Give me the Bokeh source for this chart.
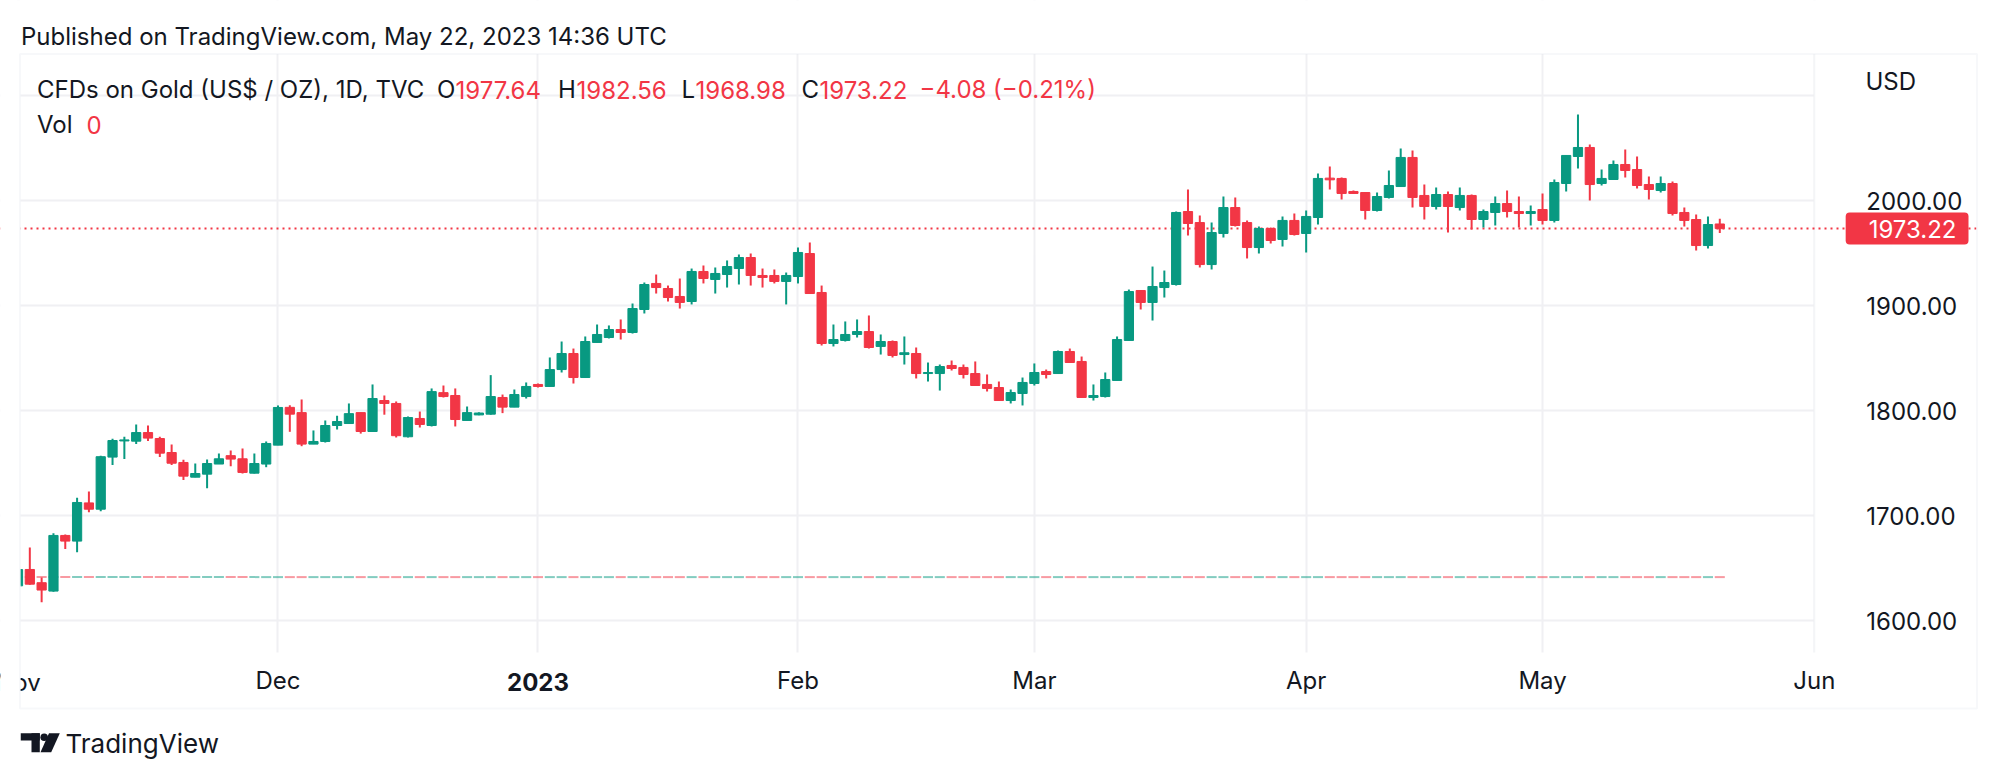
import pandas as pd
from bokeh.plotting import figure
from bokeh.models import (ColumnDataSource, FixedTicker, NumeralTickFormatter, Label,
                          Span, BoxAnnotation, Range1d)
from bokeh.core.properties import value
from bokeh.embed import file_html
from bokeh.resources import INLINE

# ---------------- data (daily candles, CFDs on Gold, TVC) ----------------
start_date = "2022-11-01"
axis_end_date = "2023-06-01"

opens = [1633.0, 1648.6, 1636.0, 1628.0, 1681.0, 1675.6, 1712.0, 1706.0, 1755.6, 1771.0,
         1770.8, 1779.0, 1773.3, 1760.0, 1750.5, 1736.5, 1739.4, 1749.0, 1757.0, 1754.0,
         1740.3, 1749.0, 1767.0, 1803.0, 1798.0, 1768.0, 1770.5, 1785.7, 1787.6, 1798.0,
         1780.0, 1809.5, 1806.7, 1775.0, 1792.4, 1785.7, 1817.0, 1814.3, 1790.5, 1795.8,
         1796.5, 1812.4, 1803.2, 1813.3, 1824.8, 1822.9, 1839.0, 1854.3, 1831.4, 1864.8,
         1869.5, 1877.1, 1874.3, 1896.2, 1921.0, 1916.2, 1908.6, 1903.8, 1932.4, 1924.8,
         1929.5, 1935.2, 1945.7, 1928.6, 1928.6, 1922.9, 1927.6, 1949.5, 1912.4, 1863.8,
         1866.7, 1872.4, 1875.2, 1861.0, 1865.7, 1853.3, 1854.3, 1835.2, 1835.2, 1842.9,
         1841.0, 1835.2, 1824.8, 1821.9, 1809.5, 1816.2, 1825.7, 1837.1, 1835.2, 1856.2,
         1846.7, 1812.4, 1813.3, 1828.6, 1866.7, 1914.3, 1902.9, 1917.1, 1920.0, 1989.5,
         1979.0, 1939.0, 1968.6, 1993.3, 1979.0, 1955.2, 1973.3, 1962.9, 1981.0, 1968.6,
         1983.8, 2021.3, 2021.0, 2008.6, 2007.6, 1990.5, 2002.9, 2013.3, 2041.0, 2004.8,
         1994.3, 2005.7, 1993.3, 2004.8, 1981.9, 1988.6, 1997.1, 1989.5, 1987.6, 1991.4,
         1981.0, 2016.2, 2041.9, 2050.5, 2016.2, 2020.0, 2034.3, 2029.5, 2015.2, 2009.5,
         2016.2, 1988.6, 1981.9, 1957.1, 1977.64]
highs = [1650.5, 1669.5, 1641.0, 1683.0, 1682.0, 1717.0, 1722.9, 1757.0, 1773.0, 1775.0,
         1786.7, 1785.7, 1775.0, 1767.6, 1753.0, 1749.5, 1753.3, 1759.0, 1762.0, 1763.8,
         1759.0, 1770.5, 1804.8, 1805.0, 1810.5, 1781.0, 1790.5, 1795.0, 1806.7, 1798.0,
         1824.8, 1814.3, 1808.6, 1794.3, 1799.0, 1821.0, 1823.8, 1821.0, 1803.8, 1798.3,
         1833.7, 1815.2, 1820.0, 1826.7, 1825.7, 1850.5, 1865.7, 1859.0, 1870.5, 1881.9,
         1881.0, 1886.7, 1901.9, 1921.9, 1929.5, 1919.0, 1925.7, 1935.2, 1938.1, 1936.2,
         1942.9, 1948.6, 1949.5, 1935.2, 1934.3, 1931.4, 1955.2, 1960.0, 1919.0, 1881.9,
         1884.8, 1886.7, 1890.5, 1872.4, 1866.7, 1870.5, 1860.0, 1845.7, 1843.8, 1847.6,
         1843.8, 1846.7, 1834.3, 1827.6, 1820.0, 1831.4, 1844.8, 1839.0, 1857.1, 1859.0,
         1851.4, 1824.8, 1836.2, 1870.5, 1915.2, 1914.3, 1937.1, 1933.3, 1989.5, 2010.5,
         1985.7, 1979.0, 2003.8, 2002.9, 1981.0, 1975.2, 1974.3, 1984.8, 1987.6, 1990.5,
         2025.7, 2032.4, 2021.9, 2009.5, 2007.6, 2007.6, 2028.6, 2049.5, 2047.6, 2015.2,
         2012.4, 2008.6, 2012.4, 2005.7, 1991.4, 2003.8, 2009.5, 2003.8, 1995.2, 2006.7,
         2020.0, 2042.9, 2081.9, 2053.3, 2029.5, 2038.1, 2048.6, 2041.9, 2022.9, 2022.9,
         2018.1, 1993.3, 1986.7, 1984.8, 1982.56]
lows = [1630.0, 1634.0, 1617.5, 1627.5, 1668.0, 1665.0, 1703.0, 1704.0, 1748.0, 1753.7,
        1768.0, 1771.0, 1755.6, 1748.0, 1733.7, 1736.5, 1726.0, 1749.0, 1747.0, 1740.0,
        1740.0, 1746.0, 1767.0, 1779.7, 1766.0, 1768.0, 1769.5, 1781.9, 1787.6, 1778.0,
        1780.0, 1796.0, 1774.3, 1774.3, 1783.8, 1784.8, 1812.4, 1784.8, 1790.5, 1795.5,
        1796.0, 1797.5, 1803.2, 1811.4, 1821.9, 1822.9, 1836.2, 1825.7, 1831.4, 1864.8,
        1868.6, 1867.6, 1873.3, 1892.4, 1911.4, 1903.8, 1897.1, 1901.0, 1921.0, 1911.4,
        1917.1, 1920.0, 1919.0, 1917.1, 1921.0, 1901.0, 1921.0, 1911.4, 1861.9, 1861.0,
        1865.7, 1869.5, 1859.0, 1853.3, 1850.5, 1843.8, 1830.5, 1827.6, 1819.0, 1838.1,
        1830.5, 1823.8, 1818.1, 1809.5, 1806.7, 1804.8, 1823.8, 1830.5, 1835.2, 1845.7,
        1812.4, 1809.5, 1812.4, 1828.6, 1866.7, 1896.2, 1885.7, 1907.6, 1919.0, 1966.7,
        1936.2, 1934.3, 1964.8, 1975.2, 1944.8, 1949.5, 1959.0, 1956.2, 1966.7, 1950.5,
        1977.1, 2010.5, 2001.0, 2006.7, 1981.9, 1989.5, 2001.9, 2013.3, 1993.3, 1981.9,
        1991.4, 1969.5, 1990.5, 1972.4, 1974.3, 1976.2, 1983.8, 1974.3, 1976.2, 1977.1,
        1979.0, 2008.6, 2030.5, 2000.0, 2014.3, 2020.0, 2021.9, 2011.4, 2001.0, 2007.6,
        1985.7, 1975.2, 1952.4, 1954.3, 1968.98]
closes = [1648.5, 1634.6, 1629.0, 1681.0, 1675.6, 1712.4, 1706.0, 1756.0, 1771.4, 1772.0,
          1779.0, 1773.7, 1759.4, 1749.8, 1737.5, 1740.0, 1749.5, 1754.0, 1753.7, 1741.0,
          1749.5, 1768.6, 1802.9, 1796.5, 1768.0, 1770.5, 1785.7, 1789.5, 1797.0, 1780.0,
          1811.4, 1806.7, 1776.0, 1793.3, 1786.7, 1818.0, 1813.3, 1791.4, 1798.0, 1797.6,
          1813.3, 1803.2, 1815.2, 1822.9, 1822.9, 1839.0, 1854.3, 1831.4, 1865.7, 1872.4,
          1877.1, 1874.3, 1897.1, 1920.0, 1917.1, 1907.6, 1902.9, 1932.4, 1925.7, 1930.5,
          1937.1, 1945.7, 1928.6, 1926.7, 1922.9, 1928.6, 1950.5, 1911.4, 1863.8, 1867.6,
          1872.4, 1875.2, 1860.0, 1865.7, 1852.4, 1855.0, 1835.2, 1836.2, 1841.9, 1840.0,
          1834.3, 1823.8, 1821.0, 1809.5, 1817.1, 1826.7, 1836.2, 1834.3, 1856.2, 1845.7,
          1812.4, 1814.3, 1829.5, 1867.6, 1913.3, 1902.9, 1918.1, 1921.9, 1988.6, 1978.1,
          1939.0, 1969.5, 1993.3, 1976.2, 1955.2, 1973.3, 1961.9, 1981.0, 1967.6, 1984.8,
          2021.0, 2019.7, 2006.7, 2006.7, 1990.5, 2003.8, 2014.3, 2041.0, 2002.9, 1994.3,
          2005.7, 1994.3, 2004.8, 1981.9, 1989.5, 1997.1, 1989.5, 1987.6, 1989.5, 1981.0,
          2017.1, 2042.9, 2050.5, 2015.2, 2021.0, 2034.3, 2028.6, 2014.3, 2010.5, 2016.2,
          1987.6, 1981.0, 1957.1, 1977.1, 1973.22]
volumes = [0] * len(closes)

price_ticks = [1600, 1700, 1800, 1900, 2000]
price_grid = [1600, 1700, 1800, 1900, 2000, 2100]

title_text = "Published on TradingView.com, May 22, 2023 14:36 UTC"
symbol_text = "CFDs on Gold (US$ / OZ), 1D, TVC"
change_text = "\u22124.08 (\u22120.21%)"
currency_text = "USD"
brand_text = "TradingView"

# ---------------- styling / layout constants ----------------
UP, DOWN = "#089981", "#f23645"
TXT = "#131722"
GRID = "#f0f0f3"
BORDER = "#e6e8ef"
SEP = "#eceef3"
FONT = "Inter"

W, H = 1992, 776                 # canvas = plot frame
BOX_L, BOX_R, BOX_T, BOX_B = 19.5, 1976.5, 53.5, 708.0
PANE_R, PANE_B = 1814, 652       # price-scale separator / time-scale top
X0_PX, PX_PER_BAR = 17.5, 11.818
Y2000_PX, PX_PER_USD = 200.0, 1.05

x_start = (0 - X0_PX) / PX_PER_BAR
x_end = (W - X0_PX) / PX_PER_BAR
y_top = 2000 + Y2000_PX / PX_PER_USD
y_bot = 2000 - (H - Y2000_PX) / PX_PER_USD
chart_bottom = 2000 - (PANE_B - Y2000_PX) / PX_PER_USD
vol_base = 2000 - (576.6 - Y2000_PX) / PX_PER_USD   # baseline of the empty volume overlay


def sy(y_px):
    """canvas y (from top) -> screen units (from frame bottom)"""
    return H - y_px


# ---------------- derived data ----------------
dates = pd.bdate_range(start_date, periods=len(closes))
axis_days = pd.bdate_range(start_date, axis_end_date)
month_ticks, month_names = [], []
for i, d in enumerate(axis_days):
    if i == 0 or d.month != axis_days[i - 1].month:
        month_ticks.append(i)
        month_names.append(str(d.year) if d.month == 1 else d.strftime("%b"))
jun_idx = month_ticks[-1]

idx = list(range(len(closes)))
colors = [UP if c >= o else DOWN for o, c in zip(opens, closes)]
src = ColumnDataSource(dict(
    x=idx, date=dates, open=opens, high=highs, low=lows, close=closes,
    top=[max(o, c) for o, c in zip(opens, closes)],
    bottom=[min(o, c) for o, c in zip(opens, closes)],
    color=colors, vol=volumes,
))

# ---------------- figure ----------------
p = figure(width=W, height=H, x_range=(x_start, x_end), y_range=(y_bot, y_top),
           y_axis_location="right", toolbar_location=None, output_backend="svg",
           min_border=0)
p.outline_line_color = None
p.background_fill_color = "white"
p.border_fill_color = "white"
p.extra_x_ranges = {"cx": Range1d(0, W)}
p.extra_y_ranges = {"cy": Range1d(H, 0)}

p.xgrid.ticker = FixedTicker(ticks=month_ticks)
p.ygrid.ticker = FixedTicker(ticks=price_grid)
for g in (p.xgrid, p.ygrid):
    g.grid_line_color = GRID
    g.grid_line_width = 2


def box(l, r, t, b, **kw):
    return BoxAnnotation(left=l, right=r, top=sy(t), bottom=sy(b),
                         left_units="screen", right_units="screen",
                         top_units="screen", bottom_units="screen", **kw)


# white panes: header, price scale, time scale (hide grid lines there)
for l, r, t, b in [(0, W, 0, BOX_T), (PANE_R, W, 0, H), (0, W, PANE_B, H)]:
    p.add_layout(box(l, r, t, b, fill_color="white", fill_alpha=1, line_color=None,
                     level="underlay"))
# price-scale separator
p.add_layout(box(PANE_R, PANE_R, BOX_T, PANE_B, fill_color=None, line_color=SEP,
                 line_width=2, level="underlay"))
# last price line
p.add_layout(Span(location=closes[-1], dimension="width", line_color=DOWN,
                  line_width=2, line_dash="2 4", level="underlay"))

# price axis, drawn on the separator
ya = p.yaxis[0]
ya.fixed_location = jun_idx
ya.ticker = FixedTicker(ticks=price_ticks)
ya.formatter = NumeralTickFormatter(format="0.00")
ya.major_label_text_font = FONT
ya.major_label_text_font_size = "24px"
ya.major_label_text_color = TXT
ya.axis_line_color = None
ya.major_tick_line_color = None
ya.minor_tick_line_color = None
ya.major_tick_out = 0
ya.major_tick_in = 0
ya.major_label_standoff = 52

# time axis, drawn on the top of the time pane
xa = p.xaxis[0]
xa.fixed_location = chart_bottom
shown = [(t, n) for t, n in zip(month_ticks, month_names) if t > 0 and not n.isdigit()]
xa.ticker = FixedTicker(ticks=[t for t, _ in shown])
xa.major_label_overrides = {t: n for t, n in shown}
xa.major_label_text_font = FONT
xa.major_label_text_font_size = "24px"
xa.major_label_text_color = TXT
xa.axis_line_color = None
xa.major_tick_line_color = None
xa.minor_tick_line_color = None
xa.major_tick_out = 0
xa.major_tick_in = 0
xa.major_label_standoff = 13

for t, n in zip(month_ticks, month_names):
    if t == 0 or n.isdigit():
        p.add_layout(Label(x=t, y=sy(681.5), x_units="data", y_units="screen", text=n,
                           text_font=FONT, text_font_size="24px", text_color=TXT,
                           text_font_style="bold" if n.isdigit() else "normal",
                           text_align="center", text_baseline="middle"))

# volume (all zero) and candles
p.rect(x="x", y=vol_base, width=0.85, height=2, height_units="screen", source=src,
       fill_color="color", fill_alpha=0.5, line_color=None)
p.segment(x0="x", y0="low", x1="x", y1="high", source=src, line_color="color", line_width=2)
p.vbar(x="x", width=0.78, top="top", bottom="bottom", source=src,
       fill_color="color", line_color="color", line_width=1)

# clip everything at the outer box's left and right edges
for l, r in [(0, BOX_L + 0.5), (BOX_R - 0.5, W)]:
    p.add_layout(box(l, r, 0, H, fill_color="white", fill_alpha=1, line_color=None,
                     level="annotation"))
# outer border of the chart widget
p.add_layout(box(BOX_L, BOX_R, BOX_T, BOX_B, fill_color=None, line_color=BORDER,
                 line_width=2, level="annotation"))


def lab(x, y_px, text, color=TXT, size="24px", **kw):
    p.add_layout(Label(x=x, y=sy(y_px), x_units="screen", y_units="screen", text=text,
                       text_font=FONT, text_font_size=size, text_color=color,
                       text_baseline="middle", **kw))


lab(20.5, 35.5, title_text)
lab(36.5, 89, symbol_text)
legend_parts = [(436.6, "O", TXT), (455, f"{opens[-1]:.2f}", DOWN),
                (557.6, "H", TXT), (576, f"{highs[-1]:.2f}", DOWN),
                (681, "L", TXT), (695, f"{lows[-1]:.2f}", DOWN),
                (801, "C", TXT), (819, f"{closes[-1]:.2f}", DOWN),
                (919, change_text, DOWN)]
for x, t, c in legend_parts:
    lab(x, 89, t, color=c)
lab(36.5, 124, "Vol")
lab(86, 124, f"{volumes[-1]}", color=DOWN)
lab(1865, 81, currency_text)

# last price badge on the price scale
p.add_layout(Label(x=1968, y=closes[-1], x_units="screen", y_units="data",
                   text=f"{closes[-1]:.2f}", text_font=FONT, text_font_size="24px",
                   text_color="white", text_align="right", text_baseline="middle",
                   background_fill_color=DOWN,
                   padding=dict(left=23, right=12, top=7, bottom=7), border_radius=4))

# footer: TradingView logo + wordmark (canvas pixel ranges)
p.quad(left=[20, 31], right=[39.3, 39.3], top=[732.7, 732.7], bottom=[740, 751.7],
       fill_color=TXT, line_color=None, x_range_name="cx", y_range_name="cy")
p.scatter(x=[43.7], y=[736.7], size=7.6, marker="circle", fill_color=TXT, line_color=None,
          x_range_name="cx", y_range_name="cy")
p.patch(x=[48.5, 59.3, 50.7, 40.0], y=[732.7, 732.7, 751.7, 751.7], fill_color=TXT,
        line_color=None, x_range_name="cx", y_range_name="cy")
lab(65, 743.3, brand_text, size="26px")

open("out.html", "w").write(file_html(p, INLINE))
